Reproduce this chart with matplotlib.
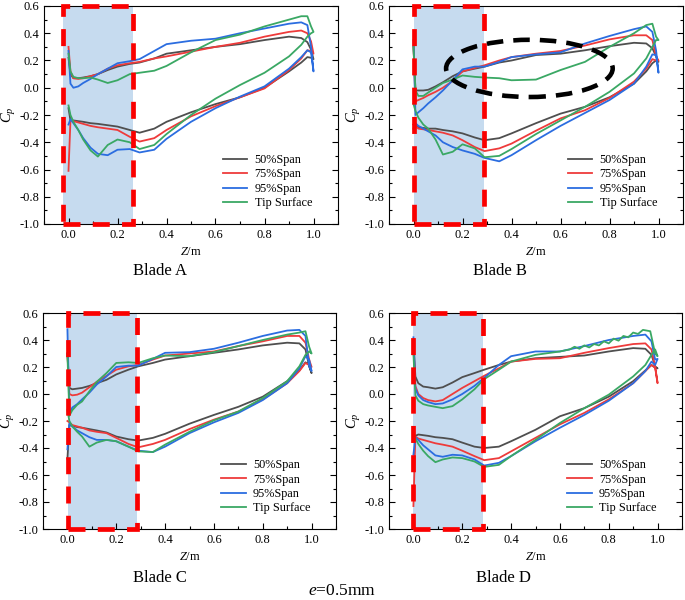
import matplotlib
matplotlib.use('Agg')
import matplotlib.pyplot as plt
from matplotlib.patches import Rectangle, Ellipse
from matplotlib.ticker import MultipleLocator, FormatStrFormatter

plt.rcParams['font.family'] = ['Liberation Serif', 'DejaVu Serif']
plt.rcParams['mathtext.fontset'] = 'custom'
plt.rcParams['mathtext.rm'] = 'Liberation Serif'
plt.rcParams['mathtext.it'] = 'Liberation Serif:italic'

# chordwise stations shared by most curves
z_pts = [0.0, 0.008, 0.02, 0.04, 0.06, 0.09, 0.12, 0.16, 0.2, 0.25, 0.29, 0.35,
         0.4, 0.5, 0.6, 0.7, 0.8, 0.9, 0.95, 0.975, 0.99, 1.0]

labels = ['50%Span', '75%Span', '95%Span', 'Tip Surface']
colors = ['#4f4f4f', '#ee3b3b', '#2b6de0', '#3aa864']

# Blade A
a50_up = [0.22, 0.1, 0.07, 0.07, 0.075, 0.085, 0.1, 0.13, 0.155, 0.175, 0.185, 0.215, 0.25, 0.275, 0.30, 0.32, 0.35, 0.375, 0.365, 0.335, 0.28, 0.21]
a50_lo = [-0.15, -0.24, -0.24, -0.245, -0.25, -0.26, -0.265, -0.275, -0.285, -0.31, -0.33, -0.30, -0.25, -0.18, -0.12, -0.07, 0.0, 0.12, 0.185, 0.225, 0.22, 0.21]
a75_up = [0.3, 0.12, 0.07, 0.065, 0.07, 0.085, 0.1, 0.14, 0.165, 0.18, 0.19, 0.215, 0.23, 0.265, 0.30, 0.33, 0.375, 0.41, 0.42, 0.40, 0.34, 0.25]
a75_lo = [-0.61, -0.24, -0.245, -0.255, -0.265, -0.28, -0.29, -0.30, -0.31, -0.36, -0.395, -0.37, -0.31, -0.21, -0.135, -0.07, -0.005, 0.13, 0.215, 0.275, 0.27, 0.25]
a95_up = [0.27, 0.03, 0.0, 0.01, 0.035, 0.065, 0.1, 0.14, 0.18, 0.195, 0.21, 0.27, 0.32, 0.345, 0.36, 0.40, 0.435, 0.47, 0.48, 0.46, 0.30, 0.12]
a95_lo = [-0.27, -0.23, -0.26, -0.31, -0.37, -0.44, -0.485, -0.495, -0.455, -0.45, -0.475, -0.455, -0.375, -0.25, -0.15, -0.065, 0.01, 0.14, 0.225, 0.275, 0.26, 0.12]
a_tip_up = [0.25, 0.12, 0.08, 0.07, 0.07, 0.075, 0.06, 0.035, 0.055, 0.1, 0.11, 0.125, 0.16, 0.26, 0.35, 0.39, 0.45, 0.5, 0.525, 0.525, 0.45, 0.41]
a_tip_lo = [-0.13, -0.2, -0.25, -0.31, -0.38, -0.46, -0.505, -0.42, -0.38, -0.40, -0.45, -0.42, -0.34, -0.2, -0.08, 0.02, 0.11, 0.23, 0.315, 0.375, 0.40, 0.41]

# Blade B
b50_up = [0.3, -0.02, -0.02, -0.02, -0.015, 0.01, 0.04, 0.085, 0.12, 0.14, 0.155, 0.185, 0.2, 0.24, 0.25, 0.275, 0.305, 0.33, 0.325, 0.29, 0.23, 0.19]
b50_lo = [-0.27, -0.28, -0.29, -0.295, -0.3, -0.3, -0.31, -0.32, -0.335, -0.365, -0.385, -0.37, -0.335, -0.26, -0.19, -0.14, -0.07, 0.03, 0.12, 0.18, 0.2, 0.19]
b75_up = [0.3, -0.1, -0.09, -0.075, -0.055, -0.03, 0.0, 0.05, 0.12, 0.145, 0.165, 0.2, 0.225, 0.25, 0.27, 0.31, 0.355, 0.385, 0.385, 0.35, 0.23, 0.2]
b75_lo = [-0.27, -0.28, -0.3, -0.305, -0.31, -0.32, -0.33, -0.35, -0.385, -0.435, -0.465, -0.445, -0.41, -0.315, -0.225, -0.165, -0.075, 0.045, 0.14, 0.21, 0.2, 0.2]
b95_up = [0.35, -0.2, -0.18, -0.15, -0.115, -0.07, -0.02, 0.055, 0.135, 0.155, 0.155, 0.19, 0.225, 0.245, 0.26, 0.325, 0.38, 0.43, 0.45, 0.41, 0.275, 0.11]
b95_lo = [-0.3, -0.26, -0.28, -0.3, -0.32, -0.35, -0.4, -0.435, -0.46, -0.485, -0.515, -0.54, -0.495, -0.385, -0.28, -0.185, -0.09, 0.03, 0.155, 0.245, 0.24, 0.11]
b_tip_up = [0.3, -0.02, -0.06, -0.06, -0.035, 0.0, 0.035, 0.06, 0.09, 0.08, 0.075, 0.07, 0.055, 0.06, 0.13, 0.19, 0.3, 0.4, 0.46, 0.47, 0.375, 0.35]
b_tip_lo = [-0.12, -0.17, -0.22, -0.27, -0.3, -0.38, -0.49, -0.47, -0.415, -0.445, -0.51, -0.5, -0.45, -0.34, -0.24, -0.14, -0.03, 0.105, 0.215, 0.3, 0.35, 0.35]

# Blade C
c50_up = [0.3, 0.045, 0.035, 0.04, 0.045, 0.06, 0.08, 0.105, 0.145, 0.18, 0.205, 0.23, 0.255, 0.28, 0.305, 0.33, 0.36, 0.38, 0.375, 0.33, 0.205, 0.155]
c50_lo = [-0.48, -0.23, -0.235, -0.245, -0.25, -0.26, -0.27, -0.285, -0.315, -0.335, -0.345, -0.325, -0.295, -0.22, -0.155, -0.095, -0.02, 0.095, 0.175, 0.235, 0.215, 0.155]
c75_up = [0.3, 0.0, -0.01, -0.005, 0.01, 0.05, 0.09, 0.135, 0.18, 0.205, 0.215, 0.255, 0.285, 0.3, 0.315, 0.355, 0.39, 0.43, 0.43, 0.38, 0.255, 0.2]
c75_lo = [-0.2, -0.21, -0.23, -0.24, -0.25, -0.27, -0.28, -0.29, -0.325, -0.37, -0.395, -0.37, -0.34, -0.26, -0.19, -0.13, -0.04, 0.08, 0.17, 0.23, 0.215, 0.2]
c95_up = [0.48, -0.15, -0.1, -0.075, -0.04, 0.01, 0.07, 0.13, 0.2, 0.21, 0.21, 0.26, 0.305, 0.31, 0.335, 0.38, 0.43, 0.47, 0.475, 0.43, 0.205, 0.17]
c95_lo = [-0.41, -0.22, -0.24, -0.27, -0.29, -0.32, -0.34, -0.34, -0.35, -0.39, -0.42, -0.43, -0.39, -0.29, -0.21, -0.14, -0.045, 0.08, 0.19, 0.28, 0.255, 0.17]
c_tip_up = [0.3, -0.16, -0.12, -0.08, -0.055, 0.02, 0.09, 0.155, 0.23, 0.235, 0.23, 0.265, 0.285, 0.28, 0.31, 0.355, 0.4, 0.44, 0.455, 0.465, 0.35, 0.3]
c_tip_lo = [-0.12, -0.2, -0.24, -0.28, -0.315, -0.39, -0.36, -0.34, -0.35, -0.39, -0.425, -0.43, -0.375, -0.28, -0.195, -0.13, -0.03, 0.095, 0.205, 0.29, 0.315, 0.3]

# Blade D
d50_up = [0.4, 0.13, 0.08, 0.055, 0.05, 0.04, 0.05, 0.085, 0.125, 0.155, 0.18, 0.215, 0.24, 0.265, 0.275, 0.285, 0.315, 0.34, 0.335, 0.29, 0.205, 0.19]
d50_lo = [-0.33, -0.31, -0.3, -0.305, -0.31, -0.32, -0.325, -0.335, -0.36, -0.39, -0.4, -0.39, -0.35, -0.265, -0.165, -0.105, -0.02, 0.095, 0.175, 0.215, 0.195, 0.19]
d75_up = [0.35, 0.06, 0.0, -0.03, -0.045, -0.055, -0.045, 0.0, 0.045, 0.095, 0.135, 0.19, 0.24, 0.26, 0.265, 0.305, 0.34, 0.37, 0.375, 0.33, 0.205, 0.08]
d75_lo = [-0.83, -0.315, -0.33, -0.34, -0.35, -0.365, -0.375, -0.39, -0.42, -0.46, -0.49, -0.475, -0.425, -0.325, -0.225, -0.14, -0.04, 0.08, 0.17, 0.215, 0.195, 0.08]
d95_up = [0.42, 0.04, -0.01, -0.045, -0.06, -0.075, -0.07, -0.04, 0.0, 0.06, 0.12, 0.215, 0.28, 0.315, 0.315, 0.355, 0.4, 0.43, 0.44, 0.39, 0.255, 0.26]
d95_lo = [-0.45, -0.32, -0.34, -0.38, -0.41, -0.455, -0.465, -0.45, -0.455, -0.485, -0.53, -0.51, -0.46, -0.35, -0.25, -0.155, -0.05, 0.08, 0.17, 0.24, 0.215, 0.26]
# tip surface of blade D has a wavy suction side, so it gets its own stations
d_tip_z_up = [0.0, 0.008, 0.02, 0.04, 0.06, 0.09, 0.12, 0.16, 0.2, 0.25, 0.29, 0.35, 0.4, 0.5, 0.6,
              0.64, 0.66, 0.68, 0.70, 0.72, 0.74, 0.76, 0.78, 0.80, 0.82, 0.84, 0.86, 0.88, 0.90,
              0.92, 0.94, 0.97, 0.99, 1.0]
d_tip_up = [0.3, -0.01, -0.05, -0.075, -0.085, -0.095, -0.105, -0.09, -0.04, 0.035, 0.11, 0.18, 0.24, 0.29, 0.315,
            0.33, 0.35, 0.335, 0.36, 0.345, 0.37, 0.36, 0.39, 0.375, 0.41, 0.395, 0.43, 0.42, 0.455,
            0.445, 0.475, 0.465, 0.3, 0.28]
d_tip_lo = [-0.28, -0.33, -0.37, -0.42, -0.46, -0.505, -0.485, -0.47, -0.475, -0.5, -0.54, -0.525, -0.46, -0.34, -0.215, -0.105, -0.005, 0.13, 0.215, 0.29, 0.33, 0.28]

panels = [
    ('Blade A', [(z_pts, a50_up, a50_lo), (z_pts, a75_up, a75_lo), (z_pts, a95_up, a95_lo), (z_pts, a_tip_up, a_tip_lo)], (-0.023, 0.263)),
    ('Blade B', [(z_pts, b50_up, b50_lo), (z_pts, b75_up, b75_lo), (z_pts, b95_up, b95_lo), (z_pts, b_tip_up, b_tip_lo)], (0.003, 0.286)),
    ('Blade C', [(z_pts, c50_up, c50_lo), (z_pts, c75_up, c75_lo), (z_pts, c95_up, c95_lo), (z_pts, c_tip_up, c_tip_lo)], (0.003, 0.286)),
    ('Blade D', [(z_pts, d50_up, d50_lo), (z_pts, d75_up, d75_lo), (z_pts, d95_up, d95_lo), (d_tip_z_up, d_tip_up, d_tip_lo)], (0.0, 0.285)),
]

W, H = 685, 600
# axes boxes in pixels: left, top, right, bottom
boxes = [(44, 6, 338, 224), (389, 6, 683, 224), (43, 313, 336, 529), (389, 313, 682, 529)]
title_pos = [(160, 271), (500, 271), (160, 578), (503, 578)]

fig = plt.figure(figsize=(W / 100, H / 100), dpi=100)

for (name, series, (r0, r1)), (l, t, r, b), (tx, ty) in zip(panels, boxes, title_pos):
    ax = fig.add_axes([l / W, 1 - b / H, (r - l) / W, (b - t) / H])
    ax.set_xlim(-0.1, 1.1)
    ax.set_ylim(-1.0, 0.6)
    ax.axvspan(r0, r1, color='#c6dbef', lw=0, zorder=0)

    for (zu, up, lo), lab, col in zip(series, labels, colors):
        xs = list(zu) + z_pts[::-1]
        ys = up + lo[::-1]
        ax.plot(xs, ys, color=col, lw=1.3, label=lab, zorder=2)

    rect = Rectangle((r0, -1.0), r1 - r0, 1.6, fill=False, ec='#fa0000', lw=3.4,
                     ls=(0, (3.6, 2.6)), clip_on=False, zorder=4)
    ax.add_patch(rect)

    if name == 'Blade B':
        ell = Ellipse((0.473, 0.142), 0.68, 0.42, fill=False, ec='black', lw=3.3,
                      ls=(0, (3.6, 2.2)), zorder=5)
        ax.add_patch(ell)

    ax.set_xticks([0.0, 0.2, 0.4, 0.6, 0.8, 1.0])
    ax.xaxis.set_minor_locator(MultipleLocator(0.1))
    ax.yaxis.set_major_locator(MultipleLocator(0.2))
    ax.yaxis.set_minor_locator(MultipleLocator(0.1))
    ax.tick_params(which='both', direction='in', right=True, labelsize=9)
    ax.tick_params(which='major', length=4, width=0.8)
    ax.tick_params(which='minor', length=2.5, width=0.8)
    ax.xaxis.set_major_formatter(FormatStrFormatter('%.1f'))
    ax.yaxis.set_major_formatter(FormatStrFormatter('%.1f'))
    for s in ax.spines.values():
        s.set_linewidth(0.8)

    ax.set_xlabel('$Z$/m', fontsize=9, labelpad=4)
    ax.set_ylabel('$C_p$', fontsize=10.5, labelpad=1)

    ax.legend(loc='lower left', bbox_to_anchor=(0.592, 0.045), frameon=False,
              fontsize=8.8, handlelength=2.0, handletextpad=0.6, labelspacing=0.2,
              borderaxespad=0)

    fig.text(tx / W, 1 - ty / H, name, fontsize=12, ha='center', va='center')

fig.text(342 / W, 1 - 591 / H, '$e$=0.5mm', fontsize=12.5, ha='center', va='center')

fig.savefig('out.png', dpi=100)
